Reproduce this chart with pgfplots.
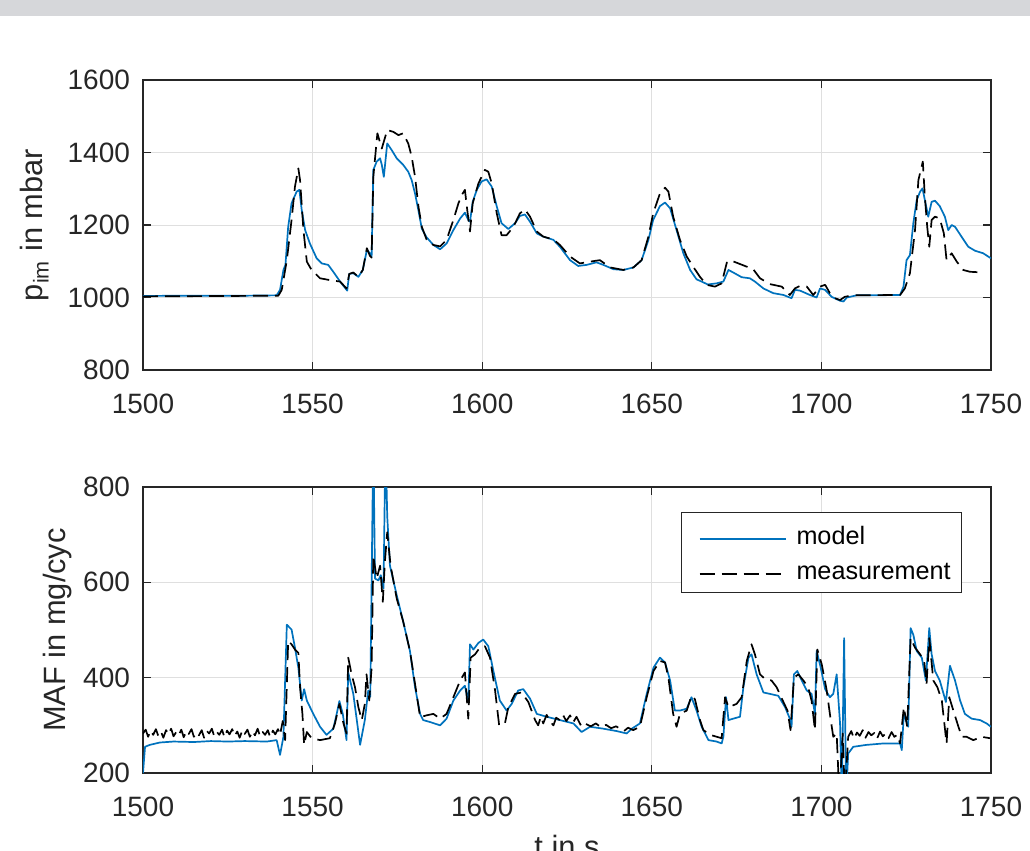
\documentclass[border=0pt]{standalone}
\usepackage{pgfplots}
\pgfplotsset{compat=1.18}
\usepackage{fontspec}
\setmainfont{Liberation Sans}
\definecolor{mblue}{RGB}{0,114,189}
\definecolor{axgray}{RGB}{38,38,38}
\definecolor{gridg}{RGB}{223,223,223}
\definecolor{barg}{RGB}{214,215,218}
\pgfplotsset{
  myax/.style={
    scale only axis, width=424pt,
    xmin=1500, xmax=1750, xtick={1500,1550,...,1750},
    grid=major, major grid style={color=gridg, line width=0.5pt},
    axis line style={color=axgray, line width=0.6pt},
    tick style={color=axgray, line width=0.6pt},
    major tick length=4pt, tick align=inside,
    xtick pos=both, ytick pos=both, xticklabel pos=lower, yticklabel pos=left,
    /pgf/number format/assume math mode=true,
    /pgf/number format/1000 sep={},
    scaled ticks=false,
    ticklabel style={font=\fontsize{14}{16}\selectfont, text=axgray},
    yticklabel style={xshift=-3pt},
    xticklabel style={yshift=-8.5pt},
    label style={font=\fontsize{15.4}{18}\selectfont, text=axgray},
    clip=true,
  },
  model/.style={color=mblue, line width=0.85pt, line join=round},
  meas/.style={color=black, line width=0.85pt, dash pattern=on 7.5pt off 3.5pt, line join=round},
}
\begin{document}
\begin{tikzpicture}
\path[use as bounding box] (0pt,0pt) rectangle (515pt,-425.5pt);
\fill[barg] (0pt,0pt) rectangle (515pt,-8pt);
%%% top axis
\begin{axis}[myax, at={(71.5pt,-185pt)}, anchor=south west, height=145pt,
  ymin=800, ymax=1600, ytick={800,1000,...,1600},
  ylabel={p\textsubscript{im} in mbar},
  ylabel style={at={(axis description cs:-0.1274,0.5)}, anchor=center},
]
\addplot[model] coordinates {
(1500,1004) (1510,1005) (1520,1005) (1530,1005) (1539.4,1006) (1540.4,1021) (1541.4,1076) (1542,1090) (1542.8,1195) (1543.8,1260) (1545.3,1292) (1546.1,1297) (1546.8,1241) (1547.8,1186) (1549.2,1149) (1551.2,1108) (1552.7,1094) (1554.6,1090) (1556.1,1071) (1558.1,1044) (1560.2,1019) (1560.8,1065) (1562,1067) (1563.5,1057) (1564.8,1076) (1566,1131) (1566.9,1122) (1567.4,1113) (1567.9,1352) (1568.9,1375) (1569.9,1384) (1570.4,1366) (1571,1333) (1572,1425) (1573.3,1407) (1574.8,1384) (1576.7,1366) (1578.2,1347) (1579.2,1324) (1580.2,1287) (1581.2,1240) (1582.2,1190) (1583.6,1166) (1585.6,1145) (1587.6,1133) (1589.5,1149) (1591.5,1186) (1593.5,1218) (1594.9,1234) (1595.9,1214) (1596.4,1209) (1597.2,1264) (1598.4,1297) (1599.8,1320) (1601.3,1326) (1602.8,1306) (1604.3,1251) (1605.7,1205) (1607.7,1189) (1609.7,1205) (1611.1,1225) (1612.6,1229) (1614.1,1209) (1616.1,1177) (1618,1168) (1621,1159) (1622.9,1140) (1625.9,1103) (1628.3,1087) (1630.8,1090) (1633.7,1097) (1635.7,1090) (1638.7,1078) (1641.6,1076) (1644.6,1083) (1647,1103) (1649,1159) (1650.4,1214) (1652.4,1252) (1653.9,1262) (1655.4,1246) (1657.3,1186) (1659.3,1122) (1661.3,1076) (1663.2,1050) (1664.2,1046) (1666.5,1036) (1669.1,1039) (1671.1,1044) (1672.6,1076) (1674,1069) (1676.5,1056) (1678.9,1053) (1680.4,1044) (1682.9,1025) (1685.8,1012) (1688.8,1007) (1691.2,998) (1692.2,1021) (1693.7,1019) (1696.6,1007) (1698.6,1000) (1699.6,1025) (1701.1,1021) (1703,1002) (1705.5,991) (1706.5,989) (1707.5,1000) (1710.4,1006) (1715.3,1006) (1723.2,1007) (1724.2,1030) (1725.1,1103) (1726.1,1117) (1727.1,1205) (1728.1,1269) (1729.1,1292) (1729.8,1301) (1730.5,1269) (1731.5,1223) (1732.5,1264) (1733.5,1267) (1734.9,1252) (1736.4,1223) (1737.4,1186) (1738.4,1200) (1739.4,1195) (1741.3,1168) (1743.3,1140) (1745.3,1129) (1747.7,1122) (1750,1108)
};
\addplot[meas] coordinates {
(1500,1003) (1520,1004) (1539.9,1005) (1540.9,1021) (1542.4,1103) (1543.8,1214) (1544.8,1306) (1545.8,1356) (1546.3,1324) (1547.3,1186) (1548.3,1099) (1549.7,1076) (1552.2,1053) (1555.1,1048) (1558.1,1044) (1560,1025) (1560.8,1065) (1562,1069) (1563.5,1057) (1564.8,1076) (1566,1136) (1566.9,1115) (1567.4,1110) (1567.9,1333) (1569.1,1453) (1570.4,1411) (1572,1462) (1573.8,1457) (1575.3,1448) (1576.7,1453) (1578.2,1425) (1579.2,1389) (1580.2,1333) (1581.2,1251) (1582.2,1195) (1583.6,1160) (1585.6,1145) (1587.6,1141) (1589.5,1159) (1591.5,1214) (1593,1260) (1594,1283) (1594.9,1297) (1595.6,1241) (1596.4,1182) (1597.2,1260) (1598.9,1315) (1600.8,1352) (1601.8,1347) (1602.8,1315) (1604.3,1232) (1605.7,1172) (1607.2,1172) (1609.2,1195) (1611.1,1232) (1612.6,1243) (1614.1,1223) (1616.1,1182) (1618,1168) (1621,1160) (1622.9,1145) (1625.9,1113) (1628.8,1094) (1631.8,1099) (1634.7,1103) (1637.7,1083) (1641.6,1076) (1644.6,1083) (1647,1103) (1649,1168) (1650.4,1232) (1652.4,1287) (1653.9,1303) (1654.9,1292) (1656.3,1223) (1658.3,1159) (1660.3,1113) (1662.2,1085) (1664.2,1057) (1666.2,1035) (1668.6,1030) (1670.6,1039) (1672.1,1096) (1673.1,1103) (1675,1096) (1678,1085) (1679.9,1078) (1681.9,1053) (1684.8,1037) (1688.3,1030) (1690.7,1007) (1692.2,1025) (1693.7,1032) (1695.7,1030) (1697.6,1007) (1699.6,1030) (1701.1,1035) (1702.5,1012) (1704,998) (1705.5,993) (1706.9,1002) (1709.4,1006) (1723.2,1007) (1724.6,1025) (1726.1,1067) (1727.6,1186) (1728.6,1324) (1729.9,1375) (1730.5,1278) (1731.2,1195) (1731.8,1140) (1732.5,1214) (1733.5,1223) (1734.9,1218) (1736.1,1177) (1736.9,1103) (1738.4,1122) (1739.9,1099) (1741.8,1076) (1743.8,1071) (1747.5,1069)
};
\end{axis}
%%% bottom axis
\begin{axis}[myax, at={(71.5pt,-386.5pt)}, anchor=south west, height=143pt,
  ymin=200, ymax=800, ytick={200,400,...,800},
  ylabel={MAF in mg/cyc},
  ylabel style={at={(axis description cs:-0.1008,0.5)}, anchor=center},
  xlabel={t in s},
  xlabel style={at={(axis description cs:0.5,-0.192)}, anchor=north},
  legend style={at={(0.966,0.913)}, anchor=north east, draw=axgray, fill=white,
    line width=0.6pt, font=\fontsize{12.6}{15}\selectfont, text=black,
    inner xsep=5.5pt, inner ysep=5.25pt, row sep=5.5pt, column sep=5pt,
    nodes={inner sep=0pt, text height=11pt, text depth=1pt}},
  legend cell align=left,
  legend image code/.code={\path (0pt,2pt); \draw[#1] (3pt,-2pt) -- (46pt,-2pt);},
]
\addplot[model] coordinates {
(1500,200) (1500.6,255) (1502,259) (1505,264) (1509,266) (1515,265) (1520,267) (1525,266) (1530,267) (1536.5,266) (1539.4,269) (1540.4,238) (1541.4,276) (1542.4,511) (1543.8,501) (1544.8,463) (1545.8,421) (1546.8,352) (1547.5,376) (1548.3,352) (1550.2,324) (1552.2,297) (1554.1,280) (1556.1,293) (1557.1,324) (1557.9,351) (1558.9,324) (1560,269) (1560.5,411) (1562,366) (1564,259) (1565.4,311) (1566.4,373) (1567,360) (1567.9,900) (1568.4,608) (1569.4,604) (1570.1,615) (1570.9,587) (1571.5,900) (1572,739) (1572.8,635) (1574.8,573) (1576.7,518) (1578.7,456) (1580.2,380) (1581.7,324) (1582.6,311) (1584.6,307) (1587.6,300) (1589.5,314) (1591.5,352) (1593.5,373) (1594.9,383) (1595.9,349) (1596.4,470) (1597.4,459) (1598.9,473) (1600.3,480) (1601.8,466) (1603.3,414) (1605.2,352) (1607.2,331) (1608.7,345) (1610.6,373) (1612.1,376) (1614.1,356) (1616.1,324) (1619,318) (1622.9,311) (1626.9,304) (1629.3,286) (1631.8,297) (1635.7,293) (1639.6,288) (1642.6,283) (1644.1,293) (1646.5,304) (1648.5,366) (1650.5,421) (1652.4,442) (1653.9,432) (1655.4,394) (1656.8,331) (1658.3,331) (1660.3,335) (1661.7,359) (1663.2,331) (1664.7,297) (1666.7,269) (1669.1,266) (1670.6,262) (1671.1,276) (1671.9,359) (1672.6,311) (1674,314) (1676,318) (1677,380) (1678.5,442) (1679.4,449) (1680.9,407) (1682.9,369) (1684.8,366) (1687.3,362) (1689.3,338) (1690.7,314) (1691.2,297) (1691.9,407) (1692.9,414) (1694.2,394) (1695.7,373) (1697.1,366) (1698.1,324) (1698.6,456) (1699.8,421) (1701.1,376) (1702.5,359) (1703.5,366) (1704.5,407) (1705.5,304) (1706,150) (1706.7,483) (1707.3,150) (1707.9,241) (1709.4,255) (1713.3,259) (1718.3,262) (1723.2,262) (1723.7,248) (1724.3,324) (1725.6,297) (1726.3,504) (1727.1,490) (1728.1,456) (1729.6,442) (1730.8,394) (1731.8,504) (1732.5,449) (1733.5,414) (1734.9,394) (1736.7,349) (1737.9,425) (1739.4,394) (1740.9,352) (1742.3,324) (1744.3,314) (1746.8,311) (1748.7,304) (1750,297)
};
\addlegendentry{model}
\addplot[meas] coordinates {
(1500,283) (1500.8,291) (1501.5,276) (1502.3,289) (1503,280) (1503.8,292) (1504.5,278) (1505.3,287) (1506,274) (1506.8,290) (1507.5,281) (1508.3,293) (1509,277) (1509.8,286) (1510.5,279) (1511.3,291) (1512,275) (1512.8,288) (1513.5,282) (1514.3,292) (1515,276) (1515.8,285) (1516.5,279) (1517.3,290) (1518,274) (1518.8,288) (1519.5,283) (1520.3,293) (1521,277) (1521.8,286) (1522.5,280) (1523.3,291) (1524,275) (1524.8,289) (1525.5,281) (1526.3,292) (1527,278) (1527.8,287) (1528.5,274) (1529.3,290) (1530,282) (1530.8,291) (1531.5,276) (1532.3,288) (1533,279) (1533.8,293) (1534.5,277) (1535.3,286) (1536,280) (1536.8,290) (1537.5,275) (1538.3,289) (1539,281) (1539.8,292) (1540.4,280) (1541.2,309) (1541.9,269) (1542.8,477) (1543.8,470) (1544.8,459) (1545.8,452) (1546.3,380) (1547,324) (1547.5,259) (1548.3,286) (1549.7,273) (1552.2,269) (1555.1,273) (1556.6,304) (1557.9,345) (1559.1,304) (1560,283) (1560.5,442) (1561.5,407) (1562.5,380) (1563.5,338) (1564.5,311) (1565.4,345) (1565.9,407) (1566.7,352) (1567.4,421) (1567.9,656) (1568.9,608) (1569.9,635) (1570.7,559) (1571.3,642) (1572,705) (1573,635) (1574.8,566) (1576.7,518) (1578.7,456) (1580.2,387) (1581.7,317) (1583.6,321) (1585.6,324) (1587.6,314) (1589.5,324) (1591.5,359) (1593.5,394) (1594.9,411) (1595.9,314) (1596.6,442) (1597.9,449) (1599.3,463) (1600.8,466) (1602.3,442) (1603.8,373) (1605,300) (1606.7,304) (1607.7,338) (1609.7,366) (1611.6,369) (1613.6,349) (1615.6,311) (1616.5,300) (1617.3,318) (1618,304) (1619,322) (1620,308) (1621,300) (1621.8,316) (1622.9,311) (1623.8,322) (1624.8,309) (1625.9,321) (1626.8,306) (1627.8,318) (1629.3,297) (1630.5,303) (1632,298) (1633.5,304) (1635,296) (1636.5,301) (1638,294) (1639.5,298) (1640.6,293) (1641.8,288) (1643,295) (1644.5,290) (1646.5,297) (1648.5,359) (1650.5,414) (1652.4,435) (1653.9,432) (1654.9,400) (1656.3,324) (1657.3,297) (1658.3,324) (1660.3,331) (1661.7,362) (1662.7,355) (1664.2,311) (1665.2,290) (1667.2,280) (1670.6,273) (1671.6,359) (1672.6,338) (1675,345) (1676.5,359) (1678,435) (1679.4,470) (1680.4,449) (1681.9,407) (1683.4,397) (1685.3,394) (1686.8,380) (1688.8,349) (1690,331) (1690.9,290) (1691.9,400) (1693.2,407) (1694.7,394) (1696.1,380) (1697.1,352) (1698.1,290) (1698.8,459) (1700.1,428) (1701.5,376) (1702.7,314) (1703.5,276) (1704.5,283) (1705.3,150) (1706.3,283) (1706.9,150) (1707.9,276) (1708.8,288) (1709.6,272) (1710.5,285) (1711.3,278) (1712.2,290) (1713,274) (1713.9,286) (1714.7,279) (1715.6,284) (1716.4,272) (1717.3,287) (1718.1,277) (1719,283) (1719.8,273) (1720.7,286) (1721.5,276) (1722.4,280) (1723.2,262) (1724.3,338) (1725.3,297) (1726.3,483) (1727.6,463) (1729.1,449) (1730.3,435) (1731,387) (1731.8,483) (1733,394) (1734.2,380) (1735.5,352) (1736.9,262) (1737.7,359) (1738.9,331) (1740.4,297) (1741.4,276) (1742.8,276) (1744.8,269) (1747.2,276) (1749.7,273)
};
\addlegendentry{measurement}
\end{axis}
\end{tikzpicture}
\end{document}
